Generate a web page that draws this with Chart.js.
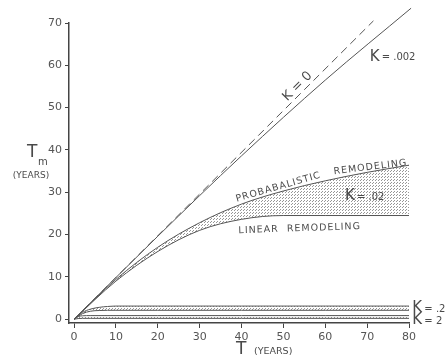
<!DOCTYPE html>
<html>
<head>
<meta charset="utf-8">
<script src="https://cdn.jsdelivr.net/npm/chart.js@4.4.0/dist/chart.umd.min.js"></script>
<style>
  body { margin: 0; background: #fff; }
  #wrap { width: 447px; height: 361px; }
</style>
</head>
<body>
<div id="wrap"><canvas id="remodelChart" width="447" height="361"></canvas></div>
<script>
// axis ticks
const xTicks = [0, 10, 20, 30, 40, 50, 60, 70, 80];
const yTicks = [0, 10, 20, 30, 40, 50, 60, 70];

// K = 0 (dashed straight line)
const tK0 = [0, 71.5];
const tmK0 = [0, 70.5];

// K = .002
const tK002 = [0, 20, 40, 60, 80.5];
const tmK002 = [0, 19.6, 38.6, 56.5, 73.5];

// K = .02 band (probabalistic above, linear below)
const tK02 = [0, 10, 20, 30, 40, 50, 60, 70, 80];
const tmK02Prob = [0, 9.4, 17, 22.8, 27.2, 30.3, 32.7, 34.7, 36.4];
const tmK02Lin = [0, 9, 16, 21, 23.6, 24.5, 24.5, 24.5, 24.5];

// K = .2 band
const tK2a = [0, 2, 4, 6, 8, 10, 20, 40, 60, 80];
const tmK2aProb = [0, 1.6, 2.4, 2.8, 3.0, 3.1, 3.1, 3.1, 3.1, 3.1];
const tmK2aLin = [0, 1.3, 1.9, 2.05, 2.1, 2.1, 2.1, 2.1, 2.1, 2.1];

// K = 2 band
const tK2b = [0, 1, 2, 4, 20, 40, 60, 80];
const tmK2bProb = [0, 0.6, 0.8, 0.85, 0.85, 0.85, 0.85, 0.85];
const tmK2bLin = [0, 0.15, 0.2, 0.2, 0.2, 0.2, 0.2, 0.2];

const pts = (xs, ys) => xs.map((x, i) => ({ x: x, y: ys[i] }));

// stipple pattern for the shaded bands
const pc = document.createElement('canvas');
pc.width = 3; pc.height = 3;
const pctx = pc.getContext('2d');
pctx.fillStyle = 'rgba(80,80,80,0.6)';
pctx.fillRect(0, 0, 1, 1);
pctx.fillRect(1, 2, 1, 1);
const stipple = pctx.createPattern(pc, 'repeat');

const lineColor = '#555';
const inkColor = '#4a4a4a';

function bandLine(data, fill) {
    return {
        data: data,
        borderColor: lineColor,
        borderWidth: 1,
        pointRadius: 0,
        cubicInterpolationMode: 'monotone',
        fill: fill,
        backgroundColor: stipple
    };
}

// labels written on the plot
const labelsPlugin = {
    id: 'labels',
    afterDraw(chart) {
        const ctx = chart.ctx;
        const xs = chart.scales.x, ys = chart.scales.y;
        const px = t => xs.getPixelForValue(t);
        const py = v => ys.getPixelForValue(v);

        function txt(s, x, y, size, opts) {
            opts = opts || {};
            ctx.save();
            ctx.translate(x, y);
            if (opts.angle) ctx.rotate(opts.angle * Math.PI / 180);
            ctx.font = size + 'px "DejaVu Sans"';
            ctx.fillStyle = inkColor;
            ctx.textAlign = opts.align || 'left';
            ctx.textBaseline = 'middle';
            if (opts.spacing) ctx.letterSpacing = opts.spacing + 'px';
            ctx.fillText(s, 0, 0);
            ctx.restore();
        }
        // "K = value" with big K and small value
        function kLabel(val, x, y) {
            txt('K', x, y, 15);
            txt('= ' + val, x + 12, y + 1, 10);
        }

        kLabel('.002', px(70.6), py(62));
        kLabel('.02', px(64.7), py(29));
        kLabel('.2', px(80.8), py(2.6));
        kLabel('2', px(80.8), py(-0.2));

        txt('K = 0', px(53.4), py(55), 13, { angle: -45, align: 'center' });

        txt('PROBABALISTIC', px(48.8), py(31.2), 9.5, { angle: -16, align: 'center', spacing: 1 });
        txt('REMODELING', px(70.8), py(35.9), 9.5, { angle: -7, align: 'center', spacing: 1 });
        txt('LINEAR  REMODELING', px(53.9), py(21.4), 9.5, { angle: -2, align: 'center', spacing: 1 });

        // axis titles
        txt('T', 236, 350, 17);
        txt('(YEARS)', 254, 352, 9.5);
        txt('T', 27, 153, 17);
        txt('m', 38, 162, 10);
        txt('(YEARS)', 31, 176, 9, { align: 'center' });
    }
};

const ctx = document.getElementById('remodelChart').getContext('2d');
const remodelChart = new Chart(ctx, {
    type: 'line',
    data: {
        datasets: [
            {
                data: pts(tK0, tmK0),
                borderColor: lineColor,
                borderWidth: 1,
                borderDash: [8, 5],
                pointRadius: 0,
                fill: false,
                clip: false
            },
            {
                data: pts(tK002, tmK002),
                borderColor: lineColor,
                borderWidth: 1,
                pointRadius: 0,
                cubicInterpolationMode: 'monotone',
                fill: false,
                clip: false
            },
            bandLine(pts(tK02, tmK02Prob), '+1'),
            bandLine(pts(tK02, tmK02Lin), false),
            bandLine(pts(tK2a, tmK2aProb), '+1'),
            bandLine(pts(tK2a, tmK2aLin), false),
            bandLine(pts(tK2b, tmK2bProb), '+1'),
            bandLine(pts(tK2b, tmK2bLin), false)
        ]
    },
    options: {
        responsive: false,
        animation: false,
        layout: { padding: { top: 23, right: 38, left: 0, bottom: 0 } },
        plugins: {
            legend: { display: false },
            tooltip: { enabled: false }
        },
        scales: {
            x: {
                type: 'linear',
                min: -1.2,
                max: 80,
                afterBuildTicks: s => { s.ticks = xTicks.map(v => ({ value: v })); },
                afterFit: s => { s.height = 38; },
                grid: { drawOnChartArea: false, drawTicks: true, tickLength: 5, color: '#444' },
                border: { color: '#444', width: 1.5 },
                ticks: { color: '#555', font: { family: 'DejaVu Sans', size: 11 }, padding: 3, maxRotation: 0 }
            },
            y: {
                type: 'linear',
                min: -0.9,
                max: 70,
                afterBuildTicks: s => { s.ticks = yTicks.map(v => ({ value: v })); },
                afterFit: s => { s.width = 69; },
                grid: { drawOnChartArea: false, drawTicks: true, tickLength: 4, color: '#444' },
                border: { color: '#444', width: 1.5 },
                ticks: { color: '#555', font: { family: 'DejaVu Sans', size: 11 }, padding: 3 }
            }
        }
    },
    plugins: [labelsPlugin]
});
</script>
</body>
</html>
